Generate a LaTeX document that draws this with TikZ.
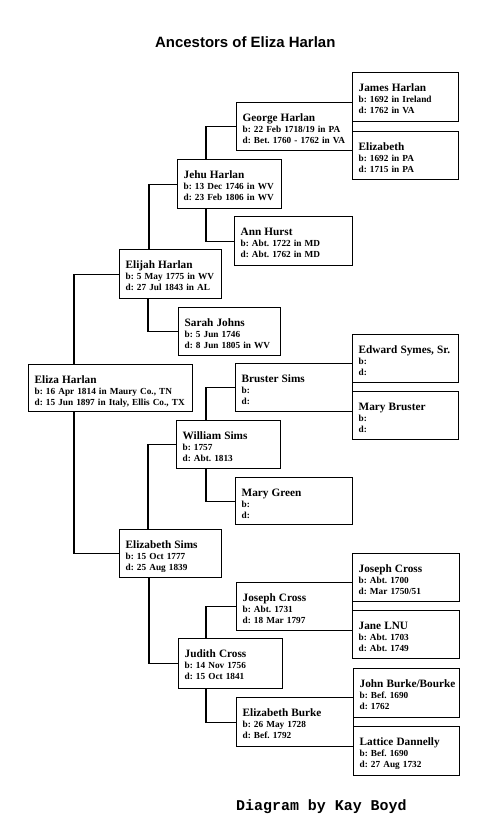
\documentclass[tikz,border=0pt]{standalone}
\usepackage{fontspec}
\setmainfont{Liberation Serif}
\newfontfamily\titlefont{Liberation Sans}
\newfontfamily\creditfont{Liberation Mono}
\newcommand\nm{\fontsize{11.3}{11}\selectfont}
\frenchspacing
\begin{document}
\begin{tikzpicture}[x=1bp,y=-1bp,
  pbox/.style={draw, line width=1.3bp, anchor=north west, inner xsep=6bp, inner ysep=0pt,
    text height=19bp, align=left, font=\bfseries\frenchspacing\fontsize{9.3}{11}\selectfont},
  link/.style={draw, line width=1.3bp},
  plain/.style={inner sep=0pt, anchor=base west}]
\useasboundingbox (0,0) rectangle (495,840);
\fill[white] (0,0) rectangle (495,840);

\node[plain, font=\titlefont\bfseries\fontsize{15}{15}\selectfont] (title) at (155,47) {Ancestors of Eliza Harlan};
\node[plain, font=\creditfont\bfseries\fontsize{15}{15}\selectfont] (credit) at (236,810) {Diagram by Kay Boyd};

% generation 3
\node[pbox, text width=94bp, text depth=30bp] (james) at (352,72) {{\nm James Harlan}\\ b: 1692 in Ireland\\ d: 1762 in VA};
\node[pbox, text width=94bp, text depth=29bp] (elizabeth) at (352,131) {{\nm Elizabeth}\\ b: 1692 in PA\\ d: 1715 in PA};
\node[pbox, text width=94bp, text depth=29bp] (edward) at (352,334) {{\nm \mbox{Edward Symes, Sr.}}\\ b:\\ d:};
\node[pbox, text width=94bp, text depth=29bp] (marybruster) at (352,391) {{\nm Mary Bruster}\\ b:\\ d:};
\node[pbox, text width=95bp, text depth=29bp] (josephsr) at (352,553) {{\nm Joseph Cross}\\ b: Abt. 1700\\ d: Mar 1750/51};
\node[pbox, text width=95bp, text depth=29bp] (jane) at (352,610) {{\nm Jane LNU}\\ b: Abt. 1703\\ d: Abt. 1749};
\node[pbox, text width=94bp, text depth=30bp] (john) at (353,668) {{\nm \mbox{John Burke/Bourke}}\\ b: Bef. 1690\\ d: 1762};
\node[pbox, text width=94bp, text depth=30bp] (lattice) at (353,726) {{\nm Lattice Dannelly}\\ b: Bef. 1690\\ d: 27 Aug 1732};

% generation 2
\node[pbox, text width=104bp, text depth=29bp] (george) at (236,102) {{\nm George Harlan}\\ b: 22 Feb 1718/19 in PA\\ d: Bet. 1760 - 1762 in VA};
\node[pbox, text width=106bp, text depth=30bp] (ann) at (234,216) {{\nm Ann Hurst}\\ b: Abt. 1722 in MD\\ d: Abt. 1762 in MD};
\node[pbox, text width=105bp, text depth=29bp] (bruster) at (235,363) {{\nm Bruster Sims}\\ b:\\ d:};
\node[pbox, text width=105bp, text depth=28bp] (marygreen) at (235,477) {{\nm Mary Green}\\ b:\\ d:};
\node[pbox, text width=104bp, text depth=29bp] (josephjr) at (236,582) {{\nm Joseph Cross}\\ b: Abt. 1731\\ d: 18 Mar 1797};
\node[pbox, text width=105bp, text depth=30bp] (eburke) at (236,697) {{\nm Elizabeth Burke}\\ b: 26 May 1728\\ d: Bef. 1792};

% generation 1
\node[pbox, text width=92bp, text depth=30bp] (jehu) at (177,159) {{\nm Jehu Harlan}\\ b: 13 Dec 1746 in WV\\ d: 23 Feb 1806 in WV};
\node[pbox, text width=90bp, text depth=29bp] (sarah) at (178,307) {{\nm Sarah Johns}\\ b: 5 Jun 1746\\ d: 8 Jun 1805 in WV};
\node[pbox, text width=92bp, text depth=29bp] (william) at (176,420) {{\nm William Sims}\\ b: 1757\\ d: Abt. 1813};
\node[pbox, text width=92bp, text depth=31bp] (judith) at (178,638) {{\nm Judith Cross}\\ b: 14 Nov 1756\\ d: 15 Oct 1841};

% parents
\node[pbox, text width=90bp, text depth=30bp] (elijah) at (119,249) {{\nm Elijah Harlan}\\ b: 5 May 1775 in WV\\ d: 27 Jul 1843 in AL};
\node[pbox, text width=90bp, text depth=29bp] (esims) at (119,529) {{\nm Elizabeth Sims}\\ b: 15 Oct 1777\\ d: 25 Aug 1839};

% root
\node[pbox, text width=152bp, text depth=28bp] (eliza) at (28,364) {{\nm Eliza Harlan}\\ b: 16 Apr 1814 in Maury Co., TN\\ d: 15 Jun 1897 in Italy, Ellis Co., TX};

% connectors
\draw[link] (george.west) -| ([xshift=29bp]jehu.north west);
\draw[link] ([xshift=29bp]jehu.south west) |- (ann.west);
\draw[link] (jehu.west) -| ([xshift=30bp]elijah.north west);
\draw[link] ([xshift=29bp]elijah.south west) |- (sarah.west);
\draw[link] (elijah.west) -| ([xshift=46bp]eliza.north west);
\draw[link] ([xshift=46bp]eliza.south west) |- (esims.west);
\draw[link] ([xshift=29bp]esims.north west) |- (william.west);
\draw[link] (bruster.west) -| ([xshift=30bp]william.north west);
\draw[link] ([xshift=30bp]william.south west) |- (marygreen.west);
\draw[link] ([xshift=30bp]esims.south west) |- (judith.west);
\draw[link] (josephjr.west) -| ([xshift=28bp]judith.north west);
\draw[link] ([xshift=28bp]judith.south west) |- (eburke.west);
\end{tikzpicture}
\end{document}
